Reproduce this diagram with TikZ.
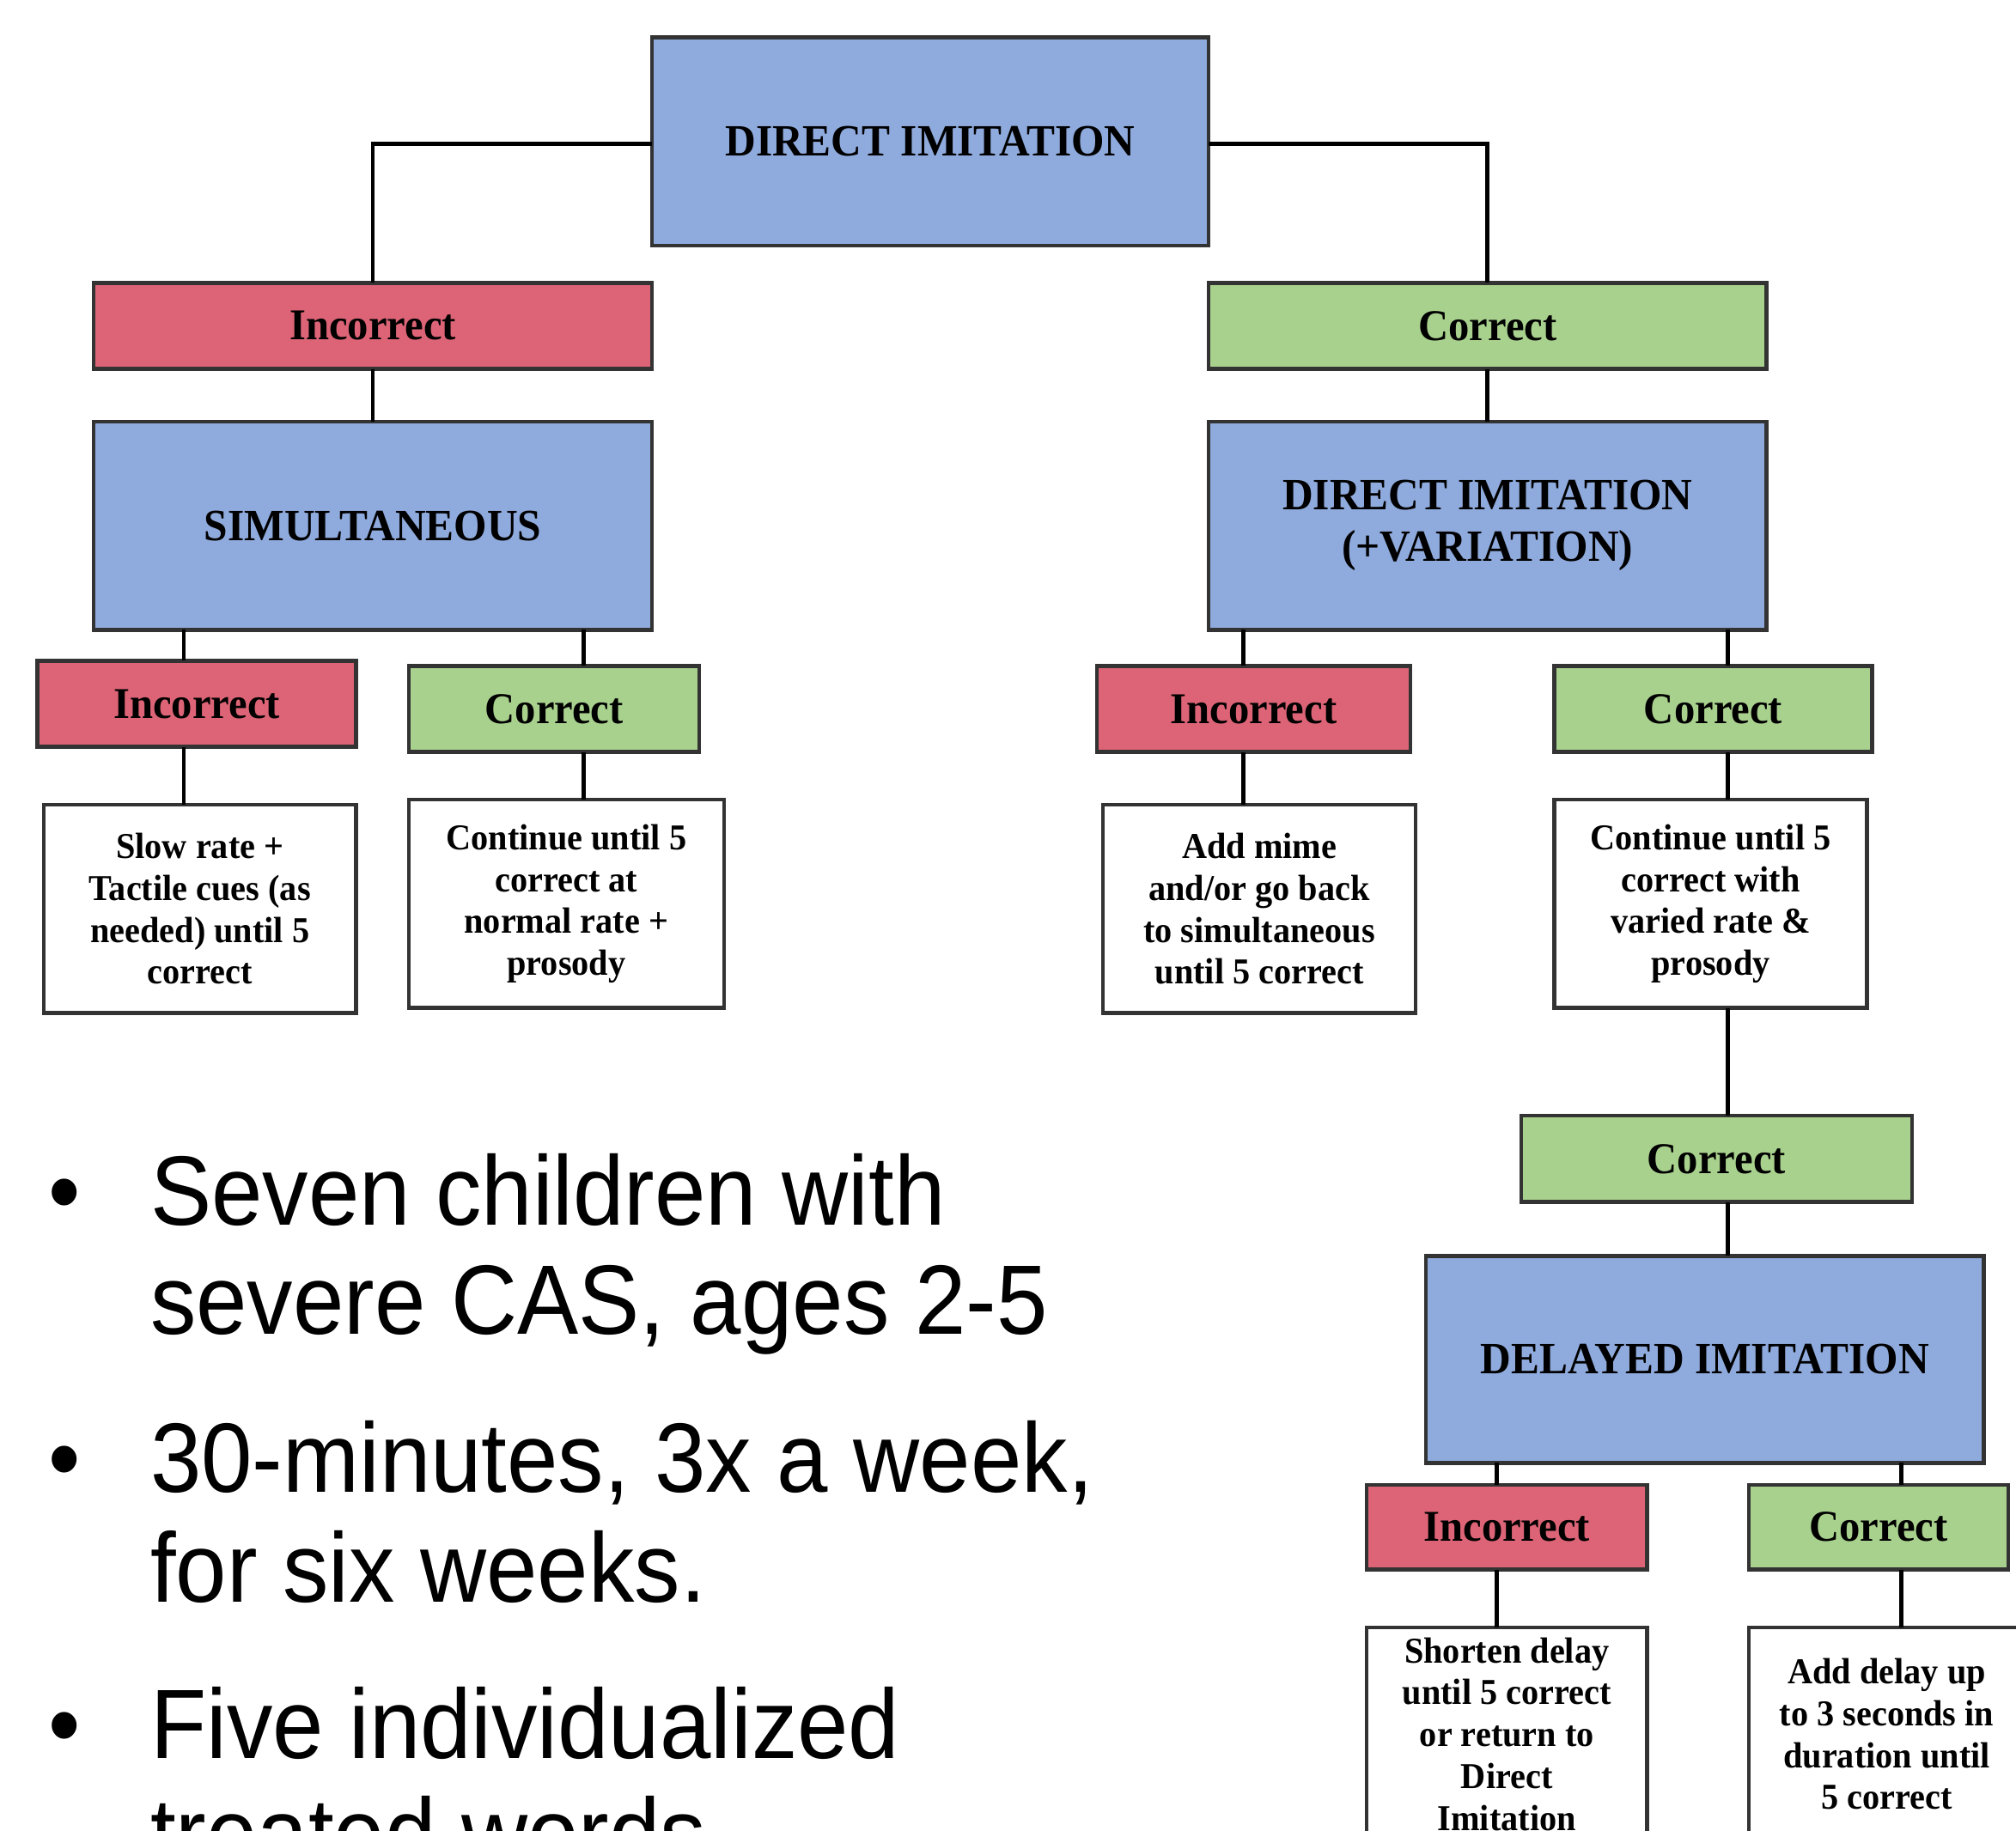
\documentclass[tikz,border=0pt]{standalone}
\usepackage{fontspec}
\newfontfamily\dfont[FakeStretch=0.95]{Liberation Serif}
\newfontfamily\bfont[FakeStretch=0.93]{Liberation Sans}
\definecolor{cBlue}{RGB}{143,170,220}
\definecolor{cRed}{RGB}{220,100,118}
\definecolor{cGreen}{RGB}{169,209,142}
\tikzset{
  box/.style={draw=black!80, line width=1.1pt, inner sep=0pt, outer sep=0pt, align=center},
  bluebox/.style={box, fill=cBlue, font=\dfont\bfseries\fontsize{13}{15}\selectfont},
  redbox/.style={box, fill=cRed, font=\dfont\bfseries\fontsize{12.8}{14}\selectfont},
  greenbox/.style={box, fill=cGreen, font=\dfont\bfseries\fontsize{12.8}{14}\selectfont},
  whitebox/.style={box, fill=white, font=\dfont\bfseries\fontsize{10.6}{12.2}\selectfont},
  conn/.style={line width=1.2pt, black},
  btext/.style={anchor=base west, inner sep=0pt, outer sep=0pt, font=\bfont\fontsize{28.7}{31.8}\selectfont}
}
\newcommand\mybox[7]{\node[#6, minimum width={(#4-#2)*0.3742pt}, minimum height={(#5-#3)*0.3742pt}] (#1) at ({(#2+#4)/2},{(#3+#5)/2}) {#7};}
\begin{document}
\begin{tikzpicture}[x=0.3742pt, y=-0.3742pt]
\useasboundingbox (0,0) rectangle (1568,1424);
\fill[white] (0,0) rectangle (1568,1424);
\clip (0,0) rectangle (1568,1424);

% connector x positions
\coordinate (xa) at (143,0);
\coordinate (xb) at (454,0);
\coordinate (xc) at (967,0);
\coordinate (xd) at (1344,0);
\coordinate (xe) at (1164,0);
\coordinate (xf) at (1479,0);
\coordinate (ytop) at (0,112);

% boxes
\mybox{di}{507}{29}{940}{191}{bluebox}{DIRECT IMITATION}
\mybox{inc1}{73}{220}{507}{287}{redbox}{Incorrect}
\mybox{cor1}{940}{220}{1374}{287}{greenbox}{Correct}
\mybox{sim}{73}{328}{507}{490}{bluebox}{SIMULTANEOUS}
\mybox{div}{940}{328}{1374}{490}{bluebox}{DIRECT IMITATION\\(+VARIATION)}

\mybox{inc2}{29}{514}{277}{581}{redbox}{Incorrect}
\mybox{cor2}{318}{518}{544}{585}{greenbox}{Correct}
\mybox{w1}{34}{626}{277}{788}{whitebox}{Slow rate +\\Tactile cues (as\\needed) until 5\\correct}
\mybox{w2}{318}{622}{563}{784}{whitebox}{Continue until 5\\correct at\\normal rate +\\prosody}

\mybox{inc3}{853}{518}{1097}{585}{redbox}{Incorrect}
\mybox{cor3}{1209}{518}{1456}{585}{greenbox}{Correct}
\mybox{w3}{858}{626}{1101}{788}{whitebox}{Add mime\\and/or go back\\to simultaneous\\until 5 correct}
\mybox{w4}{1209}{622}{1452}{784}{whitebox}{Continue until 5\\correct with\\varied rate \&\\prosody}

\mybox{cor4}{1183}{868}{1487}{935}{greenbox}{Correct}
\mybox{del}{1109}{977}{1543}{1138}{bluebox}{DELAYED IMITATION}
\mybox{inc5}{1063}{1155}{1281}{1221}{redbox}{Incorrect}
\mybox{cor5}{1360}{1155}{1562}{1221}{greenbox}{Correct}
\mybox{w5}{1063}{1266}{1281}{1432}{whitebox}{Shorten delay\\until 5 correct\\or return to\\Direct\\Imitation}
\mybox{w6}{1360}{1266}{1575}{1432}{whitebox}{Add delay up\\to 3 seconds in\\duration until\\5 correct}

% connectors
\draw[conn] (di.west |- ytop) -| (inc1.north);
\draw[conn] (di.east |- ytop) -| (cor1.north);
\draw[conn] (inc1.south) -- (sim.north);
\draw[conn] (cor1.south) -- (div.north);
\draw[conn] (sim.south -| xa) -- (inc2.north -| xa);
\draw[conn] (inc2.south -| xa) -- (w1.north -| xa);
\draw[conn] (sim.south -| xb) -- (cor2.north -| xb);
\draw[conn] (cor2.south -| xb) -- (w2.north -| xb);
\draw[conn] (div.south -| xc) -- (inc3.north -| xc);
\draw[conn] (inc3.south -| xc) -- (w3.north -| xc);
\draw[conn] (div.south -| xd) -- (cor3.north -| xd);
\draw[conn] (cor3.south -| xd) -- (w4.north -| xd);
\draw[conn] (w4.south -| xd) -- (cor4.north -| xd);
\draw[conn] (cor4.south -| xd) -- (del.north -| xd);
\draw[conn] (del.south -| xe) -- (inc5.north -| xe);
\draw[conn] (inc5.south -| xe) -- (w5.north -| xe);
\draw[conn] (del.south -| xf) -- (cor5.north -| xf);
\draw[conn] (cor5.south -| xf) -- (w6.north -| xf);

% bullet text
\node[btext] (b1) at (38,953) {•};
\node[btext] (t1) at (117,953) {Seven children with};
\node[btext] (t2) at (117,1038) {severe CAS, ages 2-5};
\node[btext] (b2) at (38,1161) {•};
\node[btext] (t3) at (117,1161) {30-minutes, 3x a week,};
\node[btext] (t4) at (117,1246) {for six weeks.};
\node[btext] (b3) at (38,1368) {•};
\node[btext] (t5) at (117,1368) {Five individualized};
\node[btext] (t6) at (117,1453) {treated words};
\end{tikzpicture}
\end{document}
